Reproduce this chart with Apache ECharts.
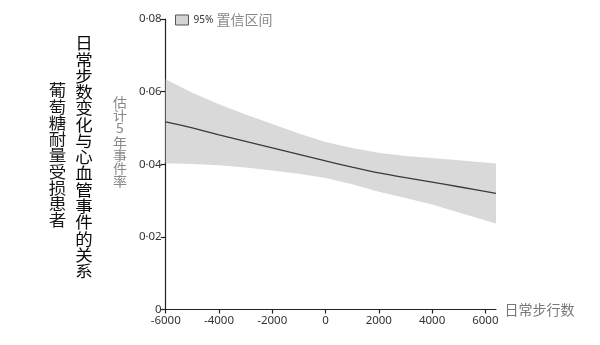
<!DOCTYPE html>
<html><head><meta charset="utf-8">
<script src="https://cdn.jsdelivr.net/npm/echarts@6/dist/echarts.min.js"></script>
<style>html,body{margin:0;padding:0;background:#fff}#c{width:600px;height:345px}</style>
</head><body><div id="c"></div>
<script>
// Daily step change (x) and estimated 5-year event rate
var steps = [-6000, -5000, -4000, -3000, -2000, -1000, 0, 1000, 2000, 3000, 4000, 5000, 6400];
var estimate = [0.0517, 0.0500, 0.0481, 0.0463, 0.0445, 0.0427, 0.0409, 0.0392, 0.0376, 0.0363, 0.0351, 0.0338, 0.0320];
var ciUpper = [0.0634, 0.0597, 0.0565, 0.0537, 0.0511, 0.0485, 0.0461, 0.0445, 0.0432, 0.0423, 0.0417, 0.0411, 0.0402];
var ciLower = [0.0403, 0.0401, 0.0397, 0.0391, 0.0383, 0.0374, 0.0362, 0.0345, 0.0324, 0.0307, 0.0289, 0.0267, 0.0237];
var xTicks = [-6000, -4000, -2000, 0, 2000, 4000, 6000];
var xTickLabels = ['-6000', '-4000', '-2000', '0', '2000', '4000', '6000'];
var yTicks = [0, 0.02, 0.04, 0.06, 0.08];
var yTickLabels = ['0', '0·02', '0·04', '0·06', '0·08'];
var legendName = '95% 置信区间';
var xName = '日常步行数';
var yName = '估计5年事件率';
var title1 = '日常步数变化与心血管事件的关系';
var title2 = '葡萄糖耐量受损患者';

var bandData = steps.map(function (x, i) { return [x, ciLower[i], ciUpper[i]]; });
var lineData = steps.map(function (x, i) { return [x, estimate[i]]; });

var CJK = '"Noto Sans CJK SC", "Noto Sans", sans-serif';
var LAT = '"Noto Sans", "Open Sans", sans-serif';
var chart = echarts.init(document.getElementById('c'), null, {renderer: 'canvas'});
chart.setOption({
  animation: false,
  backgroundColor: '#fff',
  grid: {left: 165.7, right: 104, top: 19, bottom: 35.5, containLabel: false},
  legend: {
    left: 170, top: 8, itemWidth: 13, itemHeight: 10, itemGap: 4,
    data: [{name: legendName, icon: 'rect', itemStyle: {color: '#d4d4d4', borderColor: '#555', borderWidth: 1}}],
    formatter: function () { return '{a|95%} {b|置信区间}'; },
    textStyle: {
      rich: {
        a: {fontSize: 10, color: '#333', fontFamily: LAT},
        b: {fontSize: 14, color: '#888', fontFamily: CJK}
      }
    }
  },
  xAxis: {
    type: 'value', min: -6000, max: 6400, interval: 2000,
    name: xName, nameLocation: 'end', nameGap: 6,
    nameTextStyle: {fontSize: 14, color: '#777', fontFamily: CJK, verticalAlign: 'middle'},
    splitLine: {show: false},
    axisLine: {show: true, onZero: false, lineStyle: {color: '#222', width: 1.2}},
    axisTick: {show: true, length: 4, lineStyle: {color: '#222', width: 1.2}, customValues: xTicks},
    axisLabel: {
      fontSize: 11.5, color: '#333', margin: 5, fontFamily: LAT,
      customValues: xTicks,
      formatter: function (v) { var i = xTicks.indexOf(v); return i >= 0 ? xTickLabels[i] : ''; }
    }
  },
  yAxis: {
    type: 'value', min: 0, max: 0.08, interval: 0.02,
    splitLine: {show: false},
    axisLine: {show: true, onZero: false, lineStyle: {color: '#222', width: 1.2}},
    axisTick: {show: true, length: 5, lineStyle: {color: '#222', width: 1.2}},
    axisLabel: {
      fontSize: 11.5, color: '#333', margin: 4, fontFamily: LAT,
      formatter: function (v) {
        for (var i = 0; i < yTicks.length; i++) { if (Math.abs(yTicks[i] - v) < 1e-9) return yTickLabels[i]; }
        return '';
      }
    }
  },
  series: [
    {
      name: legendName, type: 'custom', data: bandData, z: 1,
      itemStyle: {color: '#d4d4d4'},
      encode: {x: 0, y: [1, 2]},
      renderItem: function (params, api) {
        if (params.dataIndex !== 0) return null;
        var up = [], lo = [];
        for (var i = 0; i < bandData.length; i++) {
          up.push(api.coord([bandData[i][0], bandData[i][2]]));
          lo.push(api.coord([bandData[i][0], bandData[i][1]]));
        }
        return {type: 'polygon', shape: {points: up.concat(lo.reverse())}, style: {fill: '#d9d9d9'}};
      }
    },
    {
      name: 'estimate', type: 'line', data: lineData, smooth: 0.2,
      symbol: 'none', lineStyle: {color: '#3a3a3a', width: 1.3}, z: 3
    }
  ],
  graphic: [
    {type: 'text', x: 84, y: 35, scaleY: 0.94, style: {
      x: 0, y: 0, text: title1.split('').join('\n'), fill: '#0a0a0a',
      font: '17.5px ' + CJK, lineHeight: 17.3, align: 'center', verticalAlign: 'top'
    }},
    {type: 'text', x: 57.5, y: 82, scaleY: 0.94, style: {
      x: 0, y: 0, text: title2.split('').join('\n'), fill: '#1a1a1a',
      font: '17.5px ' + CJK, lineHeight: 17.3, align: 'center', verticalAlign: 'top'
    }},
    {type: 'text', x: 120, y: 96, scaleY: 0.93, style: {
      x: 0, y: 0, text: yName.split('').join('\n'), fill: '#888',
      font: '14px ' + CJK, lineHeight: 14, align: 'center', verticalAlign: 'top'
    }}
  ]
});
</script></body></html>
